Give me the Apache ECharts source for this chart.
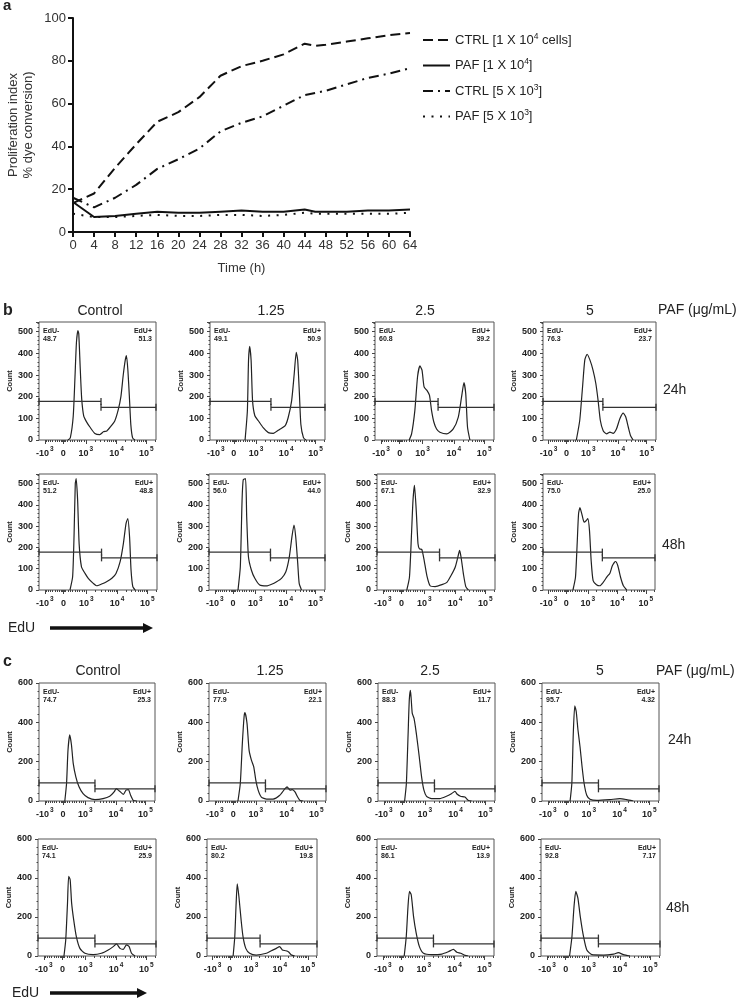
<!DOCTYPE html>
<html><head><meta charset="utf-8">
<script src="https://cdn.jsdelivr.net/npm/echarts@6/dist/echarts.min.js"></script>
<style>html,body{margin:0;padding:0;background:#fff}#c{width:741px;height:998px}</style>
</head><body><div id="c"></div>
<script>
// ---------- Panel a data ----------
const timeH = [0,4,8,12,16,20,24,28,32,36,40,44,46,48,52,56,60,64];
const ctrl1e4 = [13.5,18,30,41,51.5,56,63,73,77.5,80,83,88,87,87.5,89,90.5,92,93];
const paf1e4  = [14,7,7.5,8.5,9.5,9,9,9.5,10,9.5,9.5,10.5,9.5,9.5,9.5,10,10,10.5];
const ctrl5e3 = [16,11.5,16,22,29.5,34,39,47,51,54,59,64,65,66,69,72,74,76.5];
const paf5e3  = [8.5,7,7,7.5,8,7.5,7.5,8,8,7.5,8,9,8.5,8.5,8.5,8.5,8.5,9];
const seriesNames = ['CTRL [1 X 10^4 cells]','PAF [1 X 10^4]','CTRL [5 X 10^3]','PAF [5 X 10^3]'];
const legendRich = ['CTRL [1 X 10{s|4} cells]','PAF [1 X 10{s|4}]','CTRL [5 X 10{s|3}]','PAF [5 X 10{s|3}]'];
const xTicksA = [0,64,4];   // min, max, interval
const yTicksA = [0,100,20];

// ---------- EdU axis (transformed display position) ----------
const edUTickPos = [1.6, 2.23, 3.0, 4.05, 5.07];
const edUTickLabels = ['{m|-10}{s|3}','{m|0}','{m|10}{s|3}','{m|10}{s|4}','{m|10}{s|5}'];
const edUMinorPos = [1.66,1.72,1.79,1.86,1.94,2.01,2.09,2.16,2.19,2.21,2.25,2.27,2.30,2.38,2.46,2.54,2.62,2.70,2.78,2.86,2.93,
  3.316,3.501,3.632,3.734,3.817,3.887,3.948,4.002,4.357,4.537,4.664,4.763,4.844,4.912,4.971,5.023,5.377];
const edURange = [1.4, 5.4];

// ---------- Panel b histograms (x = EdU display position, y = count) ----------
const b24_control = [[2.39,0],[2.47,10],[2.57,110],[2.63,290],[2.68,450],[2.73,505],[2.76,490],[2.81,330],[2.86,190],[2.93,110],[3.02,85],[3.14,60],[3.31,30],[3.48,25],[3.60,38],[3.72,42],[3.85,62],[3.99,88],[4.11,140],[4.20,200],[4.28,300],[4.35,370],[4.39,390],[4.44,320],[4.49,200],[4.54,70],[4.60,10],[4.68,0]];
const b24_125 = [[2.62,0],[2.70,135],[2.74,368],[2.78,433],[2.83,368],[2.88,182],[2.96,112],[3.08,89],[3.25,57],[3.43,34],[3.60,31],[3.83,50],[4.01,65],[4.12,104],[4.24,182],[4.33,306],[4.40,405],[4.45,368],[4.51,213],[4.56,73],[4.65,11],[4.74,0]];
const b24_25 = [[2.55,0],[2.63,28],[2.74,137],[2.83,292],[2.91,342],[2.98,323],[3.05,245],[3.14,230],[3.23,207],[3.30,137],[3.38,82],[3.47,51],[3.58,36],[3.81,28],[4.03,51],[4.20,106],[4.31,199],[4.39,265],[4.45,214],[4.51,59],[4.59,0]];
const b24_5 = [[2.58,0],[2.70,90],[2.80,245],[2.88,370],[2.96,396],[3.06,370],[3.17,323],[3.27,261],[3.35,183],[3.43,90],[3.53,43],[3.65,28],[3.77,36],[3.88,31],[4.00,51],[4.12,98],[4.24,124],[4.33,106],[4.42,59],[4.50,20],[4.59,0]];
const b48_control = [[2.45,0],[2.54,62],[2.59,265],[2.63,500],[2.66,523],[2.71,420],[2.76,218],[2.84,109],[2.96,78],[3.07,55],[3.24,31],[3.35,20],[3.52,28],[3.69,39],[3.87,55],[4.01,78],[4.15,133],[4.26,218],[4.35,312],[4.41,336],[4.47,250],[4.52,94],[4.58,16],[4.66,0]];
const b48_125 = [[2.40,0],[2.48,109],[2.54,420],[2.58,518],[2.66,523],[2.70,343],[2.76,156],[2.86,94],[2.98,55],[3.15,23],[3.38,19],[3.56,27],[3.73,39],[3.90,55],[4.05,86],[4.17,156],[4.26,250],[4.33,305],[4.39,250],[4.46,125],[4.51,31],[4.59,0]];
const b48_25 = [[2.41,0],[2.50,60],[2.57,264],[2.62,421],[2.67,492],[2.73,374],[2.79,217],[2.84,193],[2.92,190],[3.00,138],[3.09,68],[3.20,20],[3.37,16],[3.60,25],[3.77,36],[3.91,68],[4.05,107],[4.14,154],[4.20,186],[4.25,154],[4.33,75],[4.41,16],[4.50,0]];
const b48_5 = [[2.47,0],[2.56,60],[2.62,217],[2.67,358],[2.72,387],[2.80,350],[2.87,319],[2.93,324],[3.00,335],[3.06,280],[3.12,138],[3.19,44],[3.31,25],[3.43,20],[3.55,36],[3.69,63],[3.79,79],[3.88,115],[3.99,134],[4.07,115],[4.17,60],[4.27,20],[4.39,0]];

// ---------- Panel c histograms ----------
const c24_control = [[2.29,0],[2.35,89],[2.40,259],[2.46,336],[2.52,285],[2.58,191],[2.67,123],[2.78,72],[2.92,37],[3.09,17],[3.33,7],[3.61,12],[3.84,24],[3.99,46],[4.07,63],[4.17,51],[4.31,34],[4.40,55],[4.48,58],[4.56,29],[4.65,3],[4.77,0]];
const c24_125 = [[2.39,0],[2.47,89],[2.54,293],[2.60,430],[2.63,450],[2.70,395],[2.77,259],[2.85,208],[2.93,174],[3.00,106],[3.08,55],[3.19,20],[3.37,10],[3.59,10],[3.82,29],[4.00,63],[4.07,72],[4.17,55],[4.25,58],[4.34,46],[4.43,20],[4.51,3],[4.62,0]];
const c24_25 = [[2.31,0],[2.37,89],[2.43,344],[2.47,515],[2.51,562],[2.57,447],[2.63,421],[2.71,344],[2.81,225],[2.89,123],[2.97,55],[3.06,24],[3.23,12],[3.51,12],[3.74,24],[3.91,37],[4.03,49],[4.11,34],[4.22,24],[4.37,20],[4.49,3],[4.60,0]];
const c24_5 = [[2.36,0],[2.42,89],[2.47,344],[2.52,484],[2.57,455],[2.63,361],[2.70,276],[2.77,174],[2.84,89],[2.93,29],[3.04,9],[3.27,3],[3.72,7],[4.06,12],[4.29,7],[4.52,0]];
const c48_control = [[2.28,0],[2.34,82],[2.40,271],[2.44,408],[2.49,391],[2.54,271],[2.61,185],[2.70,99],[2.82,39],[2.99,14],[3.27,7],[3.55,14],[3.78,31],[3.95,48],[4.06,62],[4.18,39],[4.29,34],[4.40,57],[4.49,48],[4.57,14],[4.69,0]];
const c48_125 = [[2.35,0],[2.41,99],[2.46,271],[2.50,370],[2.56,305],[2.64,185],[2.71,99],[2.81,39],[2.95,14],[3.19,5],[3.56,14],[3.74,27],[3.92,39],[4.04,48],[4.14,31],[4.26,27],[4.36,22],[4.47,5],[4.59,0]];
const c48_25 = [[2.33,0],[2.40,99],[2.46,254],[2.51,331],[2.57,314],[2.65,202],[2.74,117],[2.85,48],[2.99,14],[3.27,7],[3.62,10],[3.84,22],[4.01,34],[4.13,19],[4.26,14],[4.41,3],[4.52,0]];
const c48_5 = [[2.36,0],[2.44,99],[2.51,254],[2.57,331],[2.64,297],[2.72,202],[2.83,99],[2.94,31],[3.11,7],[3.50,5],[3.84,10],[4.00,17],[4.17,7],[4.39,0]];

// ---------- Gate values & percentages ----------
const gateSplit = {b:3.52, c:3.33};
const gateLeftCount = {b:178, c:92};
const gateRightCount = {b:151, c:62};
const yMaxCount = {b:545, c:600};
const yIntCount = {b:100, c:200};
const b24Neg = ['48.7','49.1','60.8','76.3'], b24Pos = ['51.3','50.9','39.2','23.7'];
const b48Neg = ['51.2','56.0','67.1','75.0'], b48Pos = ['48.8','44.0','32.9','25.0'];
const c24Neg = ['74.7','77.9','88.3','95.7'], c24Pos = ['25.3','22.1','11.7','4.32'];
const c48Neg = ['74.1','80.2','86.1','92.8'], c48Pos = ['25.9','19.8','13.9','7.17'];
const doseLabels = ['Control','1.25','2.5','5'];

// ---------- Layout (pixels) ----------
const rows = [
  {panel:'b', top:322, h:118, lefts:[39,210,375,543], widths:[117,115,119,113], data:[b24_control,b24_125,b24_25,b24_5], neg:b24Neg, pos:b24Pos},
  {panel:'b', top:474, h:116, lefts:[39,209,377,543], widths:[118,116,118,112], data:[b48_control,b48_125,b48_25,b48_5], neg:b48Neg, pos:b48Pos},
  {panel:'c', top:683, h:118, lefts:[39,209,378,542], widths:[116,117,117,117], data:[c24_control,c24_125,c24_25,c24_5], neg:c24Neg, pos:c24Pos},
  {panel:'c', top:839, h:117, lefts:[38,207,377,541], widths:[118,110,117,119], data:[c48_control,c48_125,c48_25,c48_5], neg:c48Neg, pos:c48Pos}
];

const FONT = '"Liberation Sans", Arial, sans-serif';
const INK = '#222';
const chart = echarts.init(document.getElementById('c'));
const grids = [], xAxes = [], yAxes = [], series = [], graphics = [];

// ---------- Panel a ----------
grids.push({left:73, top:18, width:337, height:214, show:false, outerBoundsMode:'none'});
xAxes.push({gridIndex:0, type:'value', min:xTicksA[0], max:xTicksA[1], interval:xTicksA[2],
  axisLine:{lineStyle:{color:'#111', width:2}}, axisTick:{length:5, lineStyle:{color:'#111', width:2}},
  axisLabel:{fontSize:13, color:'#333', fontFamily:FONT, margin:7}, splitLine:{show:false},
  name:'Time (h)', nameLocation:'middle', nameGap:30, nameTextStyle:{fontSize:13, color:'#333', fontFamily:FONT}});
yAxes.push({gridIndex:0, type:'value', min:yTicksA[0], max:yTicksA[1], interval:yTicksA[2],
  axisLine:{show:true, lineStyle:{color:'#111', width:2}}, axisTick:{show:true, length:5, lineStyle:{color:'#111', width:2}},
  axisLabel:{fontSize:13, color:'#333', fontFamily:FONT, margin:7}, splitLine:{show:false},
  name:'Proliferation index\n% dye conversion)', nameLocation:'middle', nameGap:37,
  nameTextStyle:{fontSize:13, color:'#333', fontFamily:FONT, lineHeight:15}});
const aVals = [ctrl1e4, paf1e4, ctrl5e3, paf5e3];
const aDash = [[10,5],'solid',[10,5,2,5],[2,6.5]];
aVals.forEach((vals, k) => {
  series.push({type:'line', name:seriesNames[k], xAxisIndex:0, yAxisIndex:0, symbol:'none', silent:true,
    data: timeH.map((t,i)=>[t, vals[i]]),
    lineStyle:{color:'#111', width:2, type:aDash[k]}, itemStyle:{color:'#111'}});
});

// ---------- Histograms ----------
const tickRich = {
  m:{fontSize:9, fontWeight:'bold', fontFamily:FONT, color:INK, lineHeight:12, verticalAlign:'bottom'},
  s:{fontSize:6.5, fontWeight:'bold', fontFamily:FONT, color:INK, lineHeight:12, verticalAlign:'top', padding:[0,0,0,1]}
};
function edULabel(v){
  let best = 0;
  edUTickPos.forEach((p,i)=>{ if (Math.abs(p-v) < Math.abs(edUTickPos[best]-v)) best = i; });
  return edUTickLabels[best];
}
rows.forEach((row) => {
  const P = row.panel;
  for (let j = 0; j < 4; j++) {
    const gi = grids.length;
    const left = row.lefts[j], w = row.widths[j], top = row.top, h = row.h;
    grids.push({left:left, top:top, width:w, height:h, show:true, borderColor:'#555', borderWidth:1, outerBoundsMode:'none'});
    const xi = xAxes.length;
    xAxes.push({gridIndex:gi, type:'value', min:edURange[0], max:edURange[1], position:'bottom',
      axisLine:{show:false}, splitLine:{show:false},
      axisTick:{show:true, customValues:edUTickPos, length:4, lineStyle:{color:'#444', width:1}},
      axisLabel:{show:true, customValues:edUTickPos, formatter:edULabel, margin:6, rich:tickRich}});
    xAxes.push({gridIndex:gi, type:'value', min:edURange[0], max:edURange[1], position:'bottom',
      axisLine:{show:false}, splitLine:{show:false},
      axisTick:{show:true, customValues:edUMinorPos, length:2, lineStyle:{color:'#444', width:1}},
      axisLabel:{show:false}});
    const yi = yAxes.length;
    yAxes.push({gridIndex:gi, type:'value', min:0, max:yMaxCount[P], interval:yIntCount[P],
      axisLine:{show:false}, splitLine:{show:false},
      axisTick:{show:true, length:3, lineStyle:{color:'#444'}},
      minorTick:{show:true, splitNumber:5, length:1.5, lineStyle:{color:'#444'}},
      axisLabel:{fontSize:9, fontWeight:'bold', fontFamily:FONT, color:INK, margin:6, showMaxLabel: yMaxCount[P] % yIntCount[P] === 0},
      name:'Count', nameLocation:'middle', nameGap:23,
      nameTextStyle:{fontSize:7.5, fontWeight:'bold', fontFamily:FONT, color:INK}});
    series.push({type:'line', xAxisIndex:xi, yAxisIndex:yi, data:row.data[j], symbol:'none', smooth:0.2, silent:true,
      lineStyle:{color:'#222', width:1.2}});
    series.push({type:'line', xAxisIndex:xi, yAxisIndex:yi, silent:true, clip:false,
      data:[[edURange[0], gateLeftCount[P]],[gateSplit[P], gateLeftCount[P]]],
      symbol:'rect', symbolSize:[1.3,7], showAllSymbol:true, itemStyle:{color:'#333'}, lineStyle:{color:'#333', width:1.2}});
    series.push({type:'line', xAxisIndex:xi, yAxisIndex:yi, silent:true, clip:false,
      data:[[gateSplit[P], gateRightCount[P]],[edURange[1], gateRightCount[P]]],
      symbol:'rect', symbolSize:[1.3,7], showAllSymbol:true, itemStyle:{color:'#333'}, lineStyle:{color:'#333', width:1.2}});
    const lab = {font:'bold 7px ' + FONT, fill:INK};
    graphics.push({type:'text', x:left+4, y:top+9, style:Object.assign({text:'EdU-', align:'left', verticalAlign:'middle', textAlign:'left', textVerticalAlign:'middle'}, lab)});
    graphics.push({type:'text', x:left+4, y:top+17, style:Object.assign({text:row.neg[j], align:'left', verticalAlign:'middle', textAlign:'left', textVerticalAlign:'middle'}, lab)});
    graphics.push({type:'text', x:left+w-4, y:top+9, style:Object.assign({text:'EdU+', align:'right', verticalAlign:'middle', textAlign:'right', textVerticalAlign:'middle'}, lab)});
    graphics.push({type:'text', x:left+w-4, y:top+17, style:Object.assign({text:row.pos[j], align:'right', verticalAlign:'middle', textAlign:'right', textVerticalAlign:'middle'}, lab)});
  }
});

// ---------- Text decorations ----------
function txt(x, y, s, size, weight, align){
  graphics.push({type:'text', x:x, y:y, style:{text:s, font:(weight||'normal') + ' ' + size + 'px ' + FONT, fill:INK,
    align:align||'left', verticalAlign:'middle', textAlign:align||'left', textVerticalAlign:'middle'}});
}
txt(3, 6, 'a', 15, 'bold');
txt(3, 311, 'b', 16, 'bold');
txt(3, 662, 'c', 16, 'bold');
const titleXb = [100, 271, 425, 590], titleXc = [98, 270, 430, 600];
doseLabels.forEach((d,i)=>{ txt(titleXb[i], 311, d, 14, 'normal', 'center'); txt(titleXc[i], 671, d, 14, 'normal', 'center'); });
txt(658, 310, 'PAF (\u03bcg/mL)', 14);
txt(656, 671, 'PAF (\u03bcg/mL)', 14);
txt(663, 390, '24h', 14); txt(662, 545, '48h', 14);
txt(668, 740, '24h', 14); txt(666, 908, '48h', 14);
txt(8, 628, 'EdU', 14); txt(12, 993, 'EdU', 14);
function arrow(x1, x2, y){
  graphics.push({type:'line', shape:{x1:x1, y1:y, x2:x2-8, y2:y}, style:{stroke:'#111', lineWidth:3.5}});
  graphics.push({type:'polygon', shape:{points:[[x2-10,y-5],[x2,y],[x2-10,y+5]]}, style:{fill:'#111'}});
}
arrow(50, 153, 628);
arrow(50, 147, 993);

chart.setOption({
  animation:false,
  backgroundColor:'#fff',
  textStyle:{fontFamily:FONT},
  grid:grids, xAxis:xAxes, yAxis:yAxes, series:series, graphic:graphics,
  legend:{orient:'vertical', left:417, top:27, itemWidth:27, itemHeight:14, itemGap:9.5,
    data:seriesNames, selectedMode:false,
    itemStyle:{opacity:0, borderWidth:0},
    formatter:(name)=>legendRich[seriesNames.indexOf(name)],
    textStyle:{fontSize:13, color:INK, fontFamily:FONT, lineHeight:16,
      rich:{s:{fontSize:8.5, fontFamily:FONT, color:INK, verticalAlign:'top', lineHeight:16}}}}
});
</script></body></html>
